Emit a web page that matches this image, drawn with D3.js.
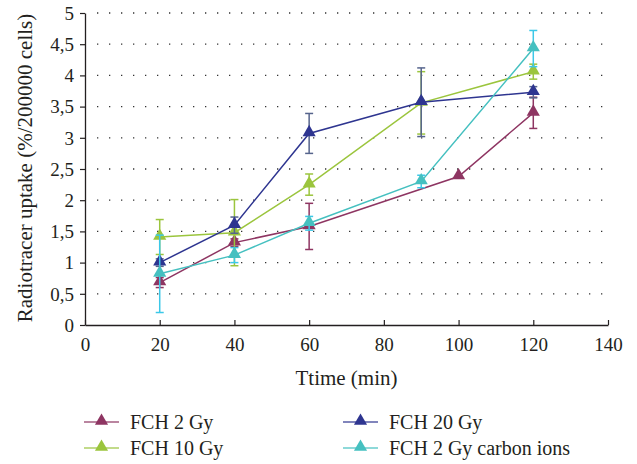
<!DOCTYPE html>
<html>
<head>
<meta charset="utf-8">
<script src="https://cdn.jsdelivr.net/npm/d3@7"></script>
<style>
  body { margin: 0; background: #fff; }
</style>
</head>
<body>
<script>
// series data
var seriesNames = ["FCH 2 Gy", "FCH 10 Gy", "FCH 20 Gy", "FCH 2 Gy carbon ions"];
var seriesColors = ["#8e3562", "#9bc53d", "#2e3590", "#45c0c0"];
var errorColors = ["#8e3562", "#9bc53d", "#56648c", "#3cc8e8"];

var times2Gy = [20, 40, 60, 100, 120];
var values2Gy = [0.68, 1.32, 1.58, 2.38, 3.4];
var errors2Gy = [0.08, 0.06, 0.37, 0, 0.25];

var times10Gy = [20, 40, 60, 90, 120];
var values10Gy = [1.41, 1.48, 2.25, 3.56, 4.06];
var errors10Gy = [0.28, 0.53, 0.17, 0.5, 0.12];

var times20Gy = [20, 40, 60, 90, 120];
var values20Gy = [1.0, 1.6, 3.07, 3.57, 3.73];
var errors20Gy = [0.06, 0.13, 0.32, 0.55, 0.09];

var timesCarbon = [20, 40, 60, 90, 120];
var valuesCarbon = [0.82, 1.12, 1.63, 2.3, 4.43];
var errorsCarbon = [0.62, 0.12, 0.11, 0.1, 0.29];

var xTicks = [0, 20, 40, 60, 80, 100, 120, 140];
var yTicks = [0, 0.5, 1, 1.5, 2, 2.5, 3, 3.5, 4, 4.5, 5];

var series = [
  {times: times2Gy, values: values2Gy, errors: errors2Gy},
  {times: times10Gy, values: values10Gy, errors: errors10Gy},
  {times: times20Gy, values: values20Gy, errors: errors20Gy},
  {times: timesCarbon, values: valuesCarbon, errors: errorsCarbon}
];

var FONT = "'Liberation Serif', 'Times New Roman', serif";
var INK = "#231f20";

var width = 637, height = 464;
var svg = d3.select("body").append("svg")
    .attr("width", width)
    .attr("height", height);

var x = d3.scaleLinear().domain([0, 140]).range([85, 608]);
var y = d3.scaleLinear().domain([0, 5]).range([325, 13]);

// dotted horizontal grid
svg.append("g").selectAll("line")
    .data(yTicks.slice(1))
    .enter().append("line")
    .attr("x1", x(0) + 12).attr("x2", x(140))
    .attr("y1", function(d) { return y(d); })
    .attr("y2", function(d) { return y(d); })
    .attr("stroke", "#333")
    .attr("stroke-width", 1.3)
    .attr("stroke-dasharray", "1.3,10.7");

// axes
var xAxis = svg.append("g")
    .attr("transform", "translate(0," + y(0) + ")")
    .call(d3.axisBottom(x).tickValues(xTicks).tickSize(5).tickSizeOuter(0));
var yAxis = svg.append("g")
    .attr("transform", "translate(" + x(0) + ",0)")
    .call(d3.axisLeft(y).tickValues(yTicks).tickSize(5).tickSizeOuter(0)
      .tickFormat(function(d) { return String(d).replace(".", ","); }));

[xAxis, yAxis].forEach(function(a) {
  a.select(".domain").attr("stroke", INK).attr("stroke-width", 1.3);
  a.selectAll(".tick line").attr("stroke", INK).attr("stroke-width", 1.2);
  a.selectAll(".tick text").attr("fill", INK)
    .style("font-family", FONT).style("font-size", "19px");
});
xAxis.selectAll(".tick line").attr("y1", -5).attr("y2", 0);
xAxis.selectAll(".tick text").attr("y", 26).attr("dy", null);
yAxis.selectAll(".tick line").attr("x2", -5);
yAxis.selectAll(".tick text").attr("x", -11).attr("dy", "0.33em");

// axis titles
svg.append("text")
    .attr("x", (x(0) + x(140)) / 2).attr("y", 385)
    .attr("text-anchor", "middle").attr("fill", INK)
    .style("font-family", FONT).style("font-size", "21px")
    .text("Ttime (min)");
svg.append("text")
    .attr("transform", "translate(32,168) rotate(-90)")
    .attr("text-anchor", "middle").attr("fill", INK)
    .style("font-family", FONT).style("font-size", "21px")
    .text("Radiotracer uptake (%/200000 cells)");

var line = d3.line()
    .x(function(d) { return x(d.t); })
    .y(function(d) { return y(d.v); });
var tri = d3.symbol().type(d3.symbolTriangle).size(75);

series.forEach(function(s, k) {
  var pts = s.times.map(function(t, i) { return {t: t, v: s.values[i], e: s.errors[i]}; });
  var g = svg.append("g");
  g.append("path")
      .datum(pts)
      .attr("d", line)
      .attr("fill", "none")
      .attr("stroke", seriesColors[k])
      .attr("stroke-width", 1.5);
  var eb = g.selectAll(".err").data(pts.filter(function(d) { return d.e > 0; }))
      .enter().append("g").attr("stroke", errorColors[k]).attr("stroke-width", 1.5);
  eb.append("line")
      .attr("x1", function(d) { return x(d.t); }).attr("x2", function(d) { return x(d.t); })
      .attr("y1", function(d) { return y(d.v - d.e); }).attr("y2", function(d) { return y(d.v + d.e); });
  [-1, 1].forEach(function(sg) {
    eb.append("line")
        .attr("x1", function(d) { return x(d.t) - 4; }).attr("x2", function(d) { return x(d.t) + 4; })
        .attr("y1", function(d) { return y(d.v + sg * d.e); })
        .attr("y2", function(d) { return y(d.v + sg * d.e); });
  });
  g.selectAll(".mk").data(pts).enter().append("path")
      .attr("d", tri)
      .attr("transform", function(d) { return "translate(" + x(d.t) + "," + (y(d.v) - 1) + ")"; })
      .attr("fill", seriesColors[k]);
});

// legend, two columns
var legendPos = [[84, 422], [84, 448], [343, 422], [343, 448]];
seriesNames.forEach(function(name, k) {
  var p = legendPos[k];
  var lg = svg.append("g").attr("transform", "translate(" + p[0] + "," + p[1] + ")");
  lg.append("line").attr("x1", 0).attr("x2", 35).attr("y1", 0).attr("y2", 0)
      .attr("stroke", seriesColors[k]).attr("stroke-width", 1.5).attr("opacity", 0.8);
  lg.append("path").attr("d", tri).attr("transform", "translate(17.5,-1)").attr("fill", seriesColors[k]);
  lg.append("text").attr("x", 46).attr("y", 0).attr("dy", "0.35em")
      .attr("fill", INK)
      .style("font-family", FONT).style("font-size", "20px")
      .text(name);
});
</script>
</body>
</html>
